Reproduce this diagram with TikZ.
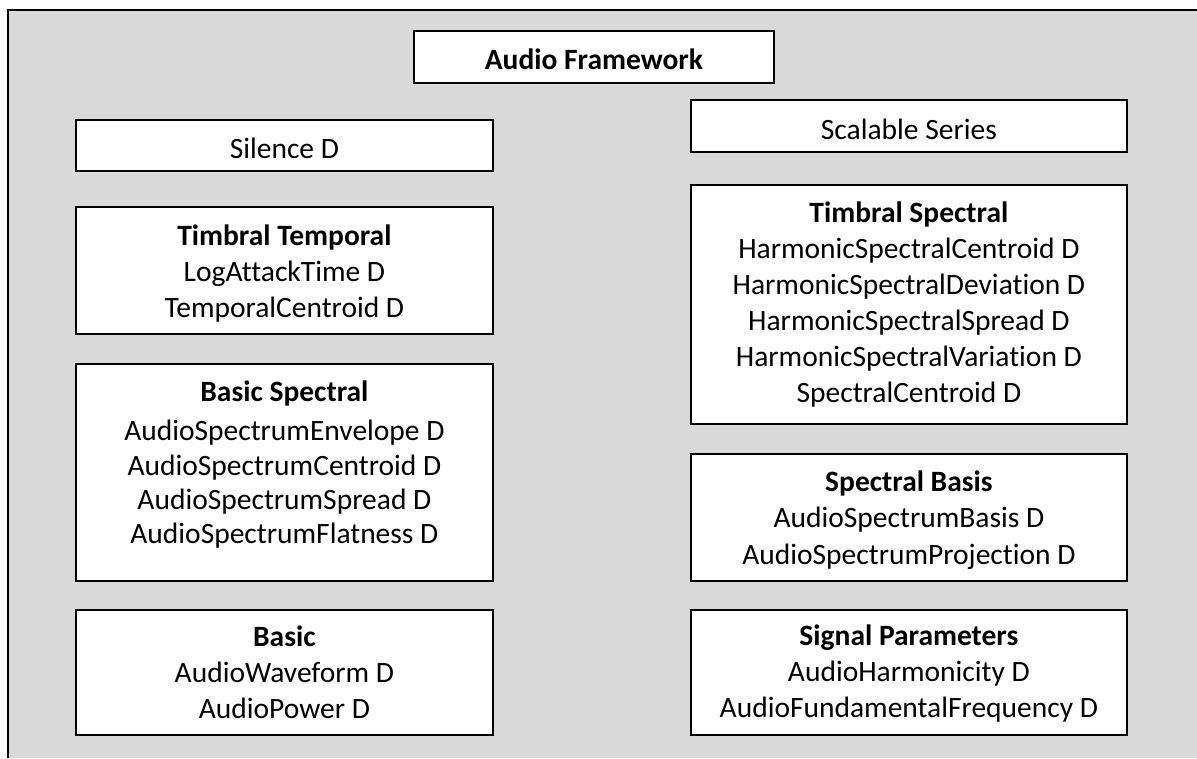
\documentclass[tikz,border=0pt]{standalone}
\usepackage{fontspec}
\setmainfont{Carlito}[Ligatures={NoCommon}]
\usetikzlibrary{calc}
\definecolor{bggray}{HTML}{D9D9D9}
\begin{document}
\begin{tikzpicture}[x=1pt,y=-1pt,
  box/.style={draw=black, line width=1.8pt, fill=white, rectangle, inner sep=0pt, anchor=north west},
  txt/.style={font=\fontsize{29.5}{35}\selectfont, anchor=base, inner sep=0pt}]
\useasboundingbox (0,0) rectangle (1197,758);
\fill[bggray] (8,10) rectangle (1197,758);
\draw[line width=2pt] (8,758) -- (8,10) -- (1197,10);

% boxes
\node[box, minimum width=360, minimum height=52] (af) at (413,30) {};
\node[box, minimum width=417, minimum height=51] (sil) at (75,119) {};
\node[box, minimum width=417, minimum height=127] (tt) at (75,206) {};
\node[box, minimum width=417, minimum height=217] (bs) at (75,363) {};
\node[box, minimum width=417, minimum height=125] (ba) at (75,609) {};
\node[box, minimum width=436, minimum height=52] (ss) at (690,99) {};
\node[box, minimum width=436, minimum height=239] (ts) at (690,184) {};
\node[box, minimum width=436, minimum height=127] (sb) at (690,453) {};
\node[box, minimum width=436, minimum height=125] (sp) at (690,609) {};

% texts
\node[txt] (af-t) at ($(af.north)+(0,39.5)$) {\bfseries Audio Framework};
\node[txt] (sil-t) at ($(sil.north)+(0,39)$) {Silence D};
\node[txt] (ss-t) at ($(ss.north)+(0,40)$) {Scalable Series};

\foreach \s [count=\i from 0] in {{\bfseries Timbral Temporal},LogAttackTime D,TemporalCentroid D}
  \node[txt] (tt-\i) at ($(tt.north)+(0,{39.5+36*\i})$) {\s};
\node[txt] (bs-0) at ($(bs.north)+(0,38)$) {\bfseries Basic Spectral};
\foreach \s [count=\i from 1] in {AudioSpectrumEnvelope D,AudioSpectrumCentroid D,AudioSpectrumSpread D,AudioSpectrumFlatness D}
  \node[txt] (bs-\i) at ($(bs.north)+(0,{43.5+34.3*\i})$) {\s};
\foreach \s [count=\i from 0] in {{\bfseries Basic},AudioWaveform D,AudioPower D}
  \node[txt] (ba-\i) at ($(ba.north)+(0,{37+36*\i})$) {\s};
\foreach \s [count=\i from 0] in {{\bfseries Timbral Spectral},HarmonicSpectralCentroid D,HarmonicSpectralDeviation D,HarmonicSpectralSpread D,HarmonicSpectralVariation D,SpectralCentroid D}
  \node[txt] (ts-\i) at ($(ts.north)+(0,{38.5+36*\i})$) {\s};
\foreach \s [count=\i from 0] in {{\bfseries Spectral Basis},AudioSpectrumBasis D,AudioSpectrumProjection D}
  \node[txt] (sb-\i) at ($(sb.north)+(0,{38.5+36.3*\i})$) {\s};
\foreach \s [count=\i from 0] in {{\bfseries Signal Parameters},AudioHarmonicity D,AudioFundamentalFrequency D}
  \node[txt] (sp-\i) at ($(sp.north)+(0,{36.5+36*\i})$) {\s};
\end{tikzpicture}
\end{document}
